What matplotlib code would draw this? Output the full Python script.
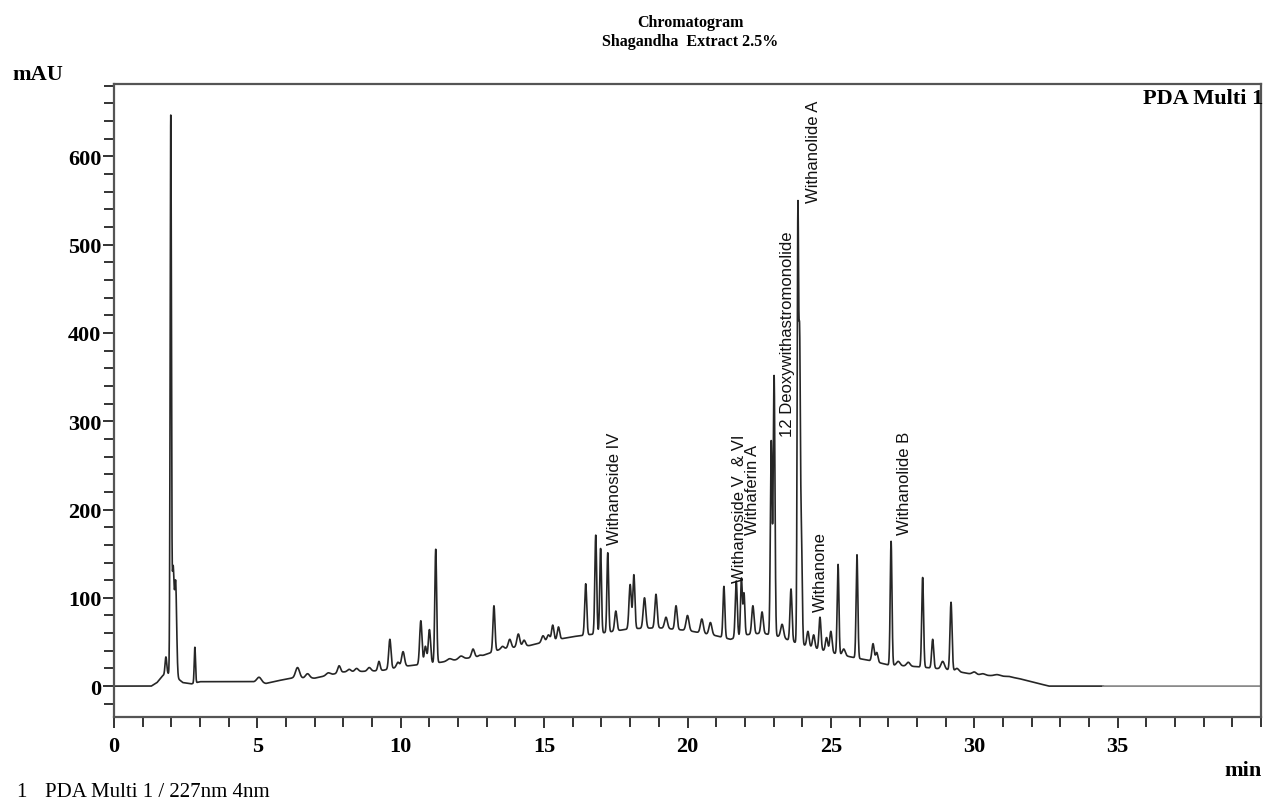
import numpy as np
import matplotlib
matplotlib.use("Agg")
import matplotlib.pyplot as plt
from matplotlib.ticker import MultipleLocator

# ---------------- data ----------------
# baseline (drift) anchor points: retention time (min), absorbance (mAU)
baseline_t = [0.0, 1.3, 1.5, 1.7, 1.9, 2.1, 2.25, 2.4, 2.7, 3.0, 4.8, 5.3, 5.7, 6.2,
              7.0, 8.0, 9.0, 9.4, 10.0, 11.4, 12.0, 12.8, 13.5, 14.5, 15.0, 16.0,
              17.0, 18.0, 19.0, 20.0, 21.0, 21.5, 22.0, 22.6, 23.2, 23.7, 24.2,
              25.0, 25.7, 26.5, 27.0, 28.0, 29.0, 29.5, 30.0, 31.0, 31.5, 32.0,
              32.6, 40.0]
baseline_y = [0, 0, 4, 12, 14, 12, 8, 4, 2.5, 5, 5, 3, 6, 9,
              9, 16, 17, 18, 22, 27, 30, 34, 42, 46, 50, 56,
              60, 65, 66, 63, 57, 53, 58, 60, 56, 50, 45,
              38, 33, 28, 24, 22, 19, 16, 13, 11, 9, 5,
              0, 0]

# peaks: retention time (min), apex absorbance (mAU), peak sigma (min)
peak_rt = [1.81, 1.98, 2.06, 2.15, 2.82, 5.06, 6.40, 6.75, 7.47, 7.85,
           8.20, 8.46, 8.90, 9.24, 9.62, 9.90, 10.08, 10.70, 10.86, 11.00,
           11.22, 11.70, 12.10, 12.52, 12.76, 13.25, 13.55, 13.80, 14.10, 14.30,
           14.96, 15.15, 15.30, 15.50, 16.45, 16.80, 16.97, 17.22, 17.50, 18.00,
           18.13, 18.50, 18.90, 19.25, 19.60, 20.00, 20.50, 20.80, 21.27, 21.70,
           21.88, 21.97, 22.28, 22.60, 22.92, 23.02, 23.30, 23.61, 23.85, 23.91,
           23.97, 24.20, 24.40, 24.62, 24.85, 25.00, 25.25, 25.45, 25.91, 26.47,
           26.60, 27.10, 27.35, 27.70, 28.20, 28.55, 28.90, 29.19, 29.40, 30.00,
           30.30, 30.80, 31.20]
peak_top = [33, 638, 132, 115, 44, 10, 21, 14, 15, 23,
            19, 20, 21, 28, 53, 27, 39, 74, 45, 64,
            155, 31, 34, 42, 35, 91, 45, 53, 59, 52,
            57, 58, 69, 67, 116, 171, 156, 151, 85, 115,
            126, 100, 104, 78, 91, 80, 76, 72, 113, 119,
            122, 105, 91, 84, 277, 351, 70, 110, 530, 365,
            170, 62, 58, 78, 55, 62, 138, 42, 149, 48,
            38, 164, 28, 27, 123, 53, 28, 95, 20, 16,
            14, 13, 11]
peak_sigma = [.03, .022, .035, .035, .022, .08, .07, .07, .07, .05,
              .06, .06, .06, .04, .04, .05, .05, .04, .04, .04,
              .032, .08, .08, .05, .05, .035, .05, .05, .05, .05,
              .05, .05, .04, .04, .035, .032, .03, .03, .04, .04,
              .035, .045, .04, .05, .04, .05, .05, .05, .032, .035,
              .03, .03, .04, .04, .03, .03, .05, .035, .025, .025,
              .03, .04, .04, .035, .04, .04, .03, .05, .03, .04,
              .04, .03, .06, .06, .032, .035, .06, .035, .06, .07,
              .08, .1, .1]

# annotated compounds
label_text = ["Withanoside IV", "Withanoside V  & VI", "Withaferin A",
              "12 Deoxywithastromonolide", "Withanolide A", "Withanone",
              "Withanolide B"]
label_rt = [17.44, 21.80, 22.25, 23.50, 24.41, 24.62, 27.58]
label_y = [161, 118, 172, 283, 548, 85, 172]

x_ticks = [0, 5, 10, 15, 20, 25, 30, 35]
y_ticks = [0, 100, 200, 300, 400, 500, 600]

# ---------------- build trace ----------------
t = np.arange(0.0, 40.0001, 0.004)
signal = np.interp(t, baseline_t, baseline_y).astype(float)
for rt, top, sg in zip(peak_rt, peak_top, peak_sigma):
    h = max(top - np.interp(rt, baseline_t, baseline_y), 0.0)
    signal += h * np.exp(-0.5 * ((t - rt) / sg) ** 2)

# ---------------- figure ----------------
SERIF = "Liberation Serif"
SANS = "Liberation Sans"
fig = plt.figure(figsize=(12.64, 8.04), dpi=100)
ax = fig.add_axes([114 / 1264, 86 / 804, 1147 / 1264, 633 / 804])

dark = t <= 34.5
tail = t >= 34.49
ax.plot(t[dark], signal[dark], color="#262626", lw=1.2)
ax.plot(t[tail], signal[tail], color="#8a8a8a", lw=1.3)

ax.set_xlim(0, 40)
ax.set_ylim(-35, 682)
ax.set_xticks(x_ticks)
ax.set_yticks(y_ticks)
ax.xaxis.set_minor_locator(MultipleLocator(1))
ax.yaxis.set_minor_locator(MultipleLocator(20))
ax.tick_params(which="both", direction="out", color="#333333", width=1.4)
ax.tick_params(which="major", length=8)
ax.tick_params(which="minor", length=7)
ax.tick_params(axis="y", pad=1)
ax.tick_params(axis="x", pad=6)
for lab in ax.get_xticklabels() + ax.get_yticklabels():
    lab.set_fontfamily(SERIF)
    lab.set_fontweight("bold")
    lab.set_fontsize(16)
for sp in ax.spines.values():
    sp.set_color("#555555")
    sp.set_linewidth(1.6)

for txt, rt, yv in zip(label_text, label_rt, label_y):
    ax.text(rt, yv, txt, rotation=90, ha="center", va="bottom",
            fontfamily=SANS, fontsize=12, color="#111111")

# titles and axis captions
fig.text(690 / 1264, 1 - 27 / 804, "Chromatogram", ha="center", va="baseline",
         fontfamily=SERIF, fontweight="bold", fontsize=11.5)
fig.text(690 / 1264, 1 - 46 / 804, "Shagandha  Extract 2.5%", ha="center", va="baseline",
         fontfamily=SERIF, fontweight="bold", fontsize=11.5)
fig.text(12 / 1264, 1 - 80 / 804, "mAU", ha="left", va="baseline",
         fontfamily=SERIF, fontweight="bold", fontsize=16)
fig.text(1262 / 1264, 1 - 776 / 804, "min", ha="right", va="baseline",
         fontfamily=SERIF, fontweight="bold", fontsize=16)
fig.text(1263 / 1264, 1 - 89 / 804, "PDA Multi 1", ha="right", va="top",
         fontfamily=SERIF, fontweight="bold", fontsize=16)
fig.text(16 / 1264, 1 - 797 / 804, "1", ha="left", va="baseline",
         fontfamily=SERIF, fontsize=15)
fig.text(45 / 1264, 1 - 797 / 804, "PDA Multi 1 / 227nm 4nm", ha="left", va="baseline",
         fontfamily=SERIF, fontsize=15)

fig.savefig("out.png", dpi=100)
